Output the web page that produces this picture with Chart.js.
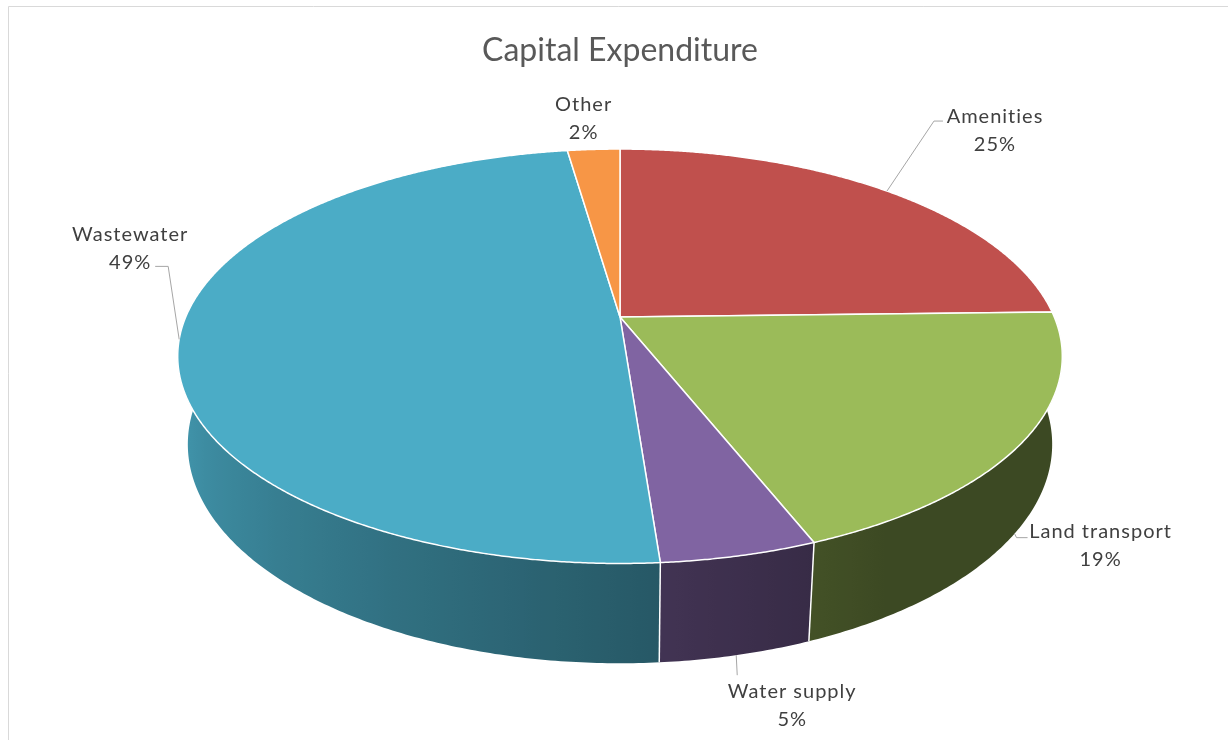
<!DOCTYPE html>
<html>
<head>
<meta charset="utf-8">
<script src="https://cdn.jsdelivr.net/npm/chart.js@4/dist/chart.umd.min.js"></script>
<style>
  body { margin: 0; background: #fff; }
  canvas { display: block; }
</style>
</head>
<body>
<canvas id="myChart" width="1228" height="740"></canvas>
<script>
// data (shares in %)
const categories = ['Amenities', 'Land transport', 'Water supply', 'Wastewater', 'Other'];
const shares = [24.6, 19.4, 4.8, 48.9, 2.3];
const sliceColors = ['#C0504D', '#9BBB59', '#8064A2', '#4BACC6', '#F79646'];

// label centre offset from the slice anchor, and leader line points (relative to label centre)
const labelOffsets = [[108, -61], [86, 12], [56, 50], [-49, -91], [-10, -31]];
const leaderPoints = [
    [[-61, -9], [-52, -9]],
    [[-84, -8], [-73, -8]],
    [[-55, -30]],
    [[38, 18], [25, 18]],
    []
];

// 3d view (perspective camera looking down at the pie)
const VIEW = {cy: 317, F: 2035, D: 4.686, tilt: Math.asin(0.46), depth: 0.23};
const SIN = Math.sin(VIEW.tilt), COS = Math.cos(VIEW.tilt);

function project(cx, a, z) {
    let u = Math.cos(a), v = -Math.sin(a);
    let up = v * SIN + z * COS;
    let dist = VIEW.D + v * COS - z * SIN;
    return {x: cx + VIEW.F * u / dist, y: VIEW.cy - VIEW.F * up / dist};
}

function shade(hex, k) {
    let n = parseInt(hex.slice(1), 16);
    let r = Math.round(((n >> 16) & 255) * k);
    let g = Math.round(((n >> 8) & 255) * k);
    let b = Math.round((n & 255) * k);
    return 'rgb(' + r + ',' + g + ',' + b + ')';
}

// side light comes from the left
function wallK(a) {
    return Math.min(0.92, Math.max(0.39, 0.52 + 0.27 * (a - 1.52)));
}

const pie3d = {
    id: 'pie3d',
    beforeDraw(chart) {
        let ctx = chart.ctx;
        ctx.save();
        ctx.fillStyle = '#fff';
        ctx.fillRect(0, 0, chart.width, chart.height);
        ctx.strokeStyle = '#d9d9d9';
        ctx.lineWidth = 1;
        ctx.beginPath();
        ctx.moveTo(8.5, chart.height);
        ctx.lineTo(8.5, 6.5);
        ctx.lineTo(chart.width, 6.5);
        ctx.stroke();
        ctx.restore();
    },
    beforeDatasetsDraw(chart) {
        let ctx = chart.ctx;
        let arcs = chart.getDatasetMeta(0).data;
        let colors = chart.data.datasets[0].backgroundColor;
        let values = chart.data.datasets[0].data;
        let total = values.reduce((s, v) => s + v, 0);
        let cx = arcs[0].x;
        let H = -VIEW.depth;
        ctx.save();

        // side walls (front half only)
        arcs.forEach(function(arc, i) {
            let lo = Math.max(arc.startAngle, 0), hi = Math.min(arc.endAngle, Math.PI);
            if (lo >= hi) return;
            let n = Math.max(4, Math.ceil((hi - lo) / 0.01));
            let top = [], bot = [];
            for (let j = 0; j <= n; j++) {
                let a = lo + (hi - lo) * j / n;
                top.push({a: a, p: project(cx, a, 0)});
                bot.push(project(cx, a, H));
            }
            let xs = top.map(t => t.p.x);
            let xMin = Math.min.apply(null, xs), xMax = Math.max.apply(null, xs);
            let grad = ctx.createLinearGradient(xMin, 0, xMax, 0);
            for (let j = 0; j <= n; j += 2) {
                let off = (top[j].p.x - xMin) / (xMax - xMin);
                grad.addColorStop(Math.min(1, Math.max(0, off)), shade(colors[i], wallK(top[j].a)));
            }
            ctx.beginPath();
            top.forEach((t, j) => j ? ctx.lineTo(t.p.x, t.p.y) : ctx.moveTo(t.p.x, t.p.y));
            for (let j = bot.length - 1; j >= 0; j--) ctx.lineTo(bot[j].x, bot[j].y);
            ctx.closePath();
            ctx.fillStyle = grad;
            ctx.fill();
        });
        // white seams between walls
        ctx.strokeStyle = '#fff';
        ctx.lineWidth = 1.5;
        arcs.forEach(function(arc) {
            let a = arc.startAngle;
            if (a > 0 && a < Math.PI) {
                let p1 = project(cx, a, 0), p2 = project(cx, a, H);
                ctx.beginPath();
                ctx.moveTo(p1.x, p1.y);
                ctx.lineTo(p2.x, p2.y);
                ctx.stroke();
            }
        });

        // top faces
        arcs.forEach(function(arc, i) {
            let n = Math.max(4, Math.ceil((arc.endAngle - arc.startAngle) / 0.005));
            ctx.beginPath();
            ctx.moveTo(cx, VIEW.cy);
            for (let j = 0; j <= n; j++) {
                let p = project(cx, arc.startAngle + (arc.endAngle - arc.startAngle) * j / n, 0);
                ctx.lineTo(p.x, p.y);
            }
            ctx.closePath();
            ctx.fillStyle = colors[i];
            ctx.fill();
            ctx.strokeStyle = '#fff';
            ctx.lineWidth = 1.5;
            ctx.lineJoin = 'round';
            ctx.stroke();
        });

        // data labels with leader lines
        ctx.font = '20px Lato';
        ctx.letterSpacing = '1px';
        ctx.textAlign = 'center';
        ctx.textBaseline = 'middle';
        arcs.forEach(function(arc, i) {
            let mid = (arc.startAngle + arc.endAngle) / 2;
            let anchor = project(cx, mid, Math.sin(mid) > 0.3 ? H : 0);
            let lx = anchor.x + labelOffsets[i][0], ly = anchor.y + labelOffsets[i][1];
            let pts = leaderPoints[i];
            if (pts.length) {
                ctx.strokeStyle = '#a6a6a6';
                ctx.lineWidth = 1;
                ctx.beginPath();
                ctx.moveTo(anchor.x, anchor.y);
                pts.forEach(p => ctx.lineTo(lx + p[0], ly + p[1]));
                ctx.stroke();
            }
            ctx.fillStyle = '#404040';
            ctx.fillText(chart.data.labels[i], lx, ly - 14);
            ctx.fillText(Math.round(values[i] / total * 100) + '%', lx, ly + 14);
        });
        ctx.restore();
        return false;
    }
};

var ctx = document.getElementById('myChart');
var myPieChart = new Chart(ctx, {
    type: 'pie',
    data: {
        labels: categories,
        datasets: [{
            data: shares,
            backgroundColor: sliceColors,
            borderColor: '#fff',
            borderWidth: 1.5
        }]
    },
    options: {
        responsive: false,
        animation: false,
        events: [],
        layout: {padding: {left: 12, top: 31}},
        plugins: {
            legend: {display: false},
            tooltip: {enabled: false},
            title: {
                display: true,
                text: 'Capital Expenditure',
                color: '#595959',
                font: {family: 'Lato', size: 32, weight: 'normal'},
                padding: {top: 0, bottom: 10}
            }
        }
    },
    plugins: [pie3d]
});
</script>
</body>
</html>
